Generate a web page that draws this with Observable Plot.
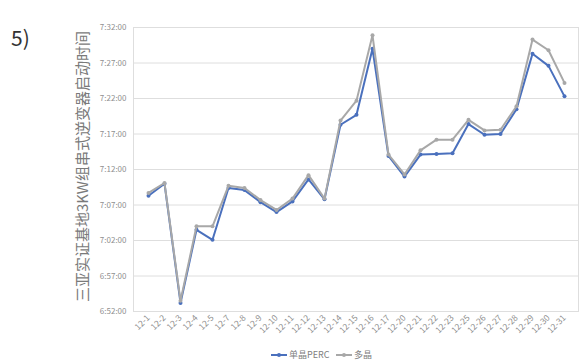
<!DOCTYPE html>
<html>
<head>
<meta charset="utf-8">
<script src="https://cdn.jsdelivr.net/npm/d3@7"></script>
<script src="https://cdn.jsdelivr.net/npm/@observablehq/plot@0.6"></script>
<style>
  html, body { margin: 0; padding: 0; background: #fff; }
  #wrap { position: relative; width: 580px; height: 364px; font-family: 'Noto Sans CJK SC', 'Noto Sans', sans-serif; }
  #num { position: absolute; left: 11px; top: 22px; font-size: 21px; color: #333; }
  #legend { position: absolute; left: 0; top: 346px; width: 580px; height: 18px; font-size: 9px; color: #808080; }
  .item { position: absolute; top: 2px; display: flex; align-items: center; }
</style>
</head>
<body>
<div id="wrap">
  <div id="chart"></div>
  <div id="num">5)</div>
  <div id="legend"></div>
</div>
<script>
const categories = ["12-1","12-2","12-3","12-4","12-5","12-7","12-8","12-9","12-10","12-11","12-12","12-13","12-14","12-15","12-16","12-17","12-20","12-21","12-22","12-23","12-25","12-26","12-27","12-28","12-29","12-30","12-31"];
const percValues = ["7:08:18","7:10:00","6:53:12","7:03:30","7:02:06","7:09:24","7:09:06","7:07:24","7:06:00","7:07:30","7:10:36","7:07:48","7:18:18","7:19:42","7:29:00","7:13:54","7:11:00","7:14:06","7:14:12","7:14:18","7:18:24","7:16:54","7:17:00","7:20:30","7:28:18","7:26:36","7:22:18"];
const multiValues = ["7:08:42","7:10:06","6:53:30","7:04:00","7:04:00","7:09:42","7:09:24","7:07:42","7:06:18","7:07:54","7:11:12","7:07:54","7:18:54","7:21:42","7:30:54","7:14:06","7:11:18","7:14:42","7:16:12","7:16:12","7:19:00","7:17:30","7:17:36","7:20:54","7:30:18","7:28:48","7:24:12"];
const yTickLabels = ["6:52:00","6:57:00","7:02:00","7:07:00","7:12:00","7:17:00","7:22:00","7:27:00","7:32:00"];
const seriesNames = ["单晶PERC", "多晶"];
const yTitle = "三亚实证基地3KW组串式逆变器启动时间";

const toSec = s => { const [h, m, sec] = s.split(":").map(Number); return h * 3600 + m * 60 + sec; };
const fmt = v => `${Math.floor(v / 3600)}:${String(Math.floor((v % 3600) / 60)).padStart(2, "0")}:${String(v % 60).padStart(2, "0")}`;
const yTicks = yTickLabels.map(toSec);

const perc = categories.map((c, i) => ({cat: c, t: toSec(percValues[i])}));
const multi = categories.map((c, i) => ({cat: c, t: toSec(multiValues[i])}));

const blue = "#4a70bd";
const gray = "#a8a8a8";

const chart = Plot.plot({
  width: 580,
  height: 346,
  marginLeft: 133,
  marginRight: 2,
  marginTop: 27,
  marginBottom: 35,
  style: {fontFamily: "'Noto Sans CJK SC', 'Noto Sans', sans-serif", background: "transparent"},
  x: {type: "point", domain: categories, padding: 0.5},
  y: {domain: [yTicks[0], yTicks[yTicks.length - 1]]},
  marks: [
    Plot.gridY(yTicks, {stroke: "#dedede", strokeOpacity: 1}),
    Plot.frame({stroke: "#dedede"}),
    Plot.axisY(yTicks, {tickSize: 0, tickPadding: 7, tickFormat: fmt, fontSize: 8, fill: "#8f8f8f", label: null}),
    Plot.axisX({tickRotate: -45, tickSize: 0, tickPadding: 5, fontSize: 8.5, fill: "#8f8f8f", label: null}),
    Plot.lineY(perc, {x: "cat", y: "t", stroke: blue, strokeWidth: 2}),
    Plot.dot(perc, {x: "cat", y: "t", r: 2, fill: blue}),
    Plot.lineY(multi, {x: "cat", y: "t", stroke: gray, strokeWidth: 2}),
    Plot.dot(multi, {x: "cat", y: "t", r: 2, fill: gray}),
    Plot.text([yTitle], {frameAnchor: "left", textAnchor: "middle", dx: -50, dy: -3, rotate: -90, fontSize: 15, fill: "#7a7a7a"})
  ]
});
document.getElementById("chart").appendChild(chart);

const legend = document.getElementById("legend");
const items = [{name: seriesNames[0], color: blue, left: 271}, {name: seriesNames[1], color: gray, left: 336}];
for (const it of items) {
  const d = document.createElement("div");
  d.className = "item";
  d.style.left = it.left + "px";
  d.innerHTML = `<svg width="16" height="8"><line x1="0" y1="4" x2="16" y2="4" stroke="${it.color}" stroke-width="2"/><circle cx="8" cy="4" r="2" fill="${it.color}"/></svg><span style="margin-left:2px">${it.name}</span>`;
  legend.appendChild(d);
}
</script>
</body>
</html>
